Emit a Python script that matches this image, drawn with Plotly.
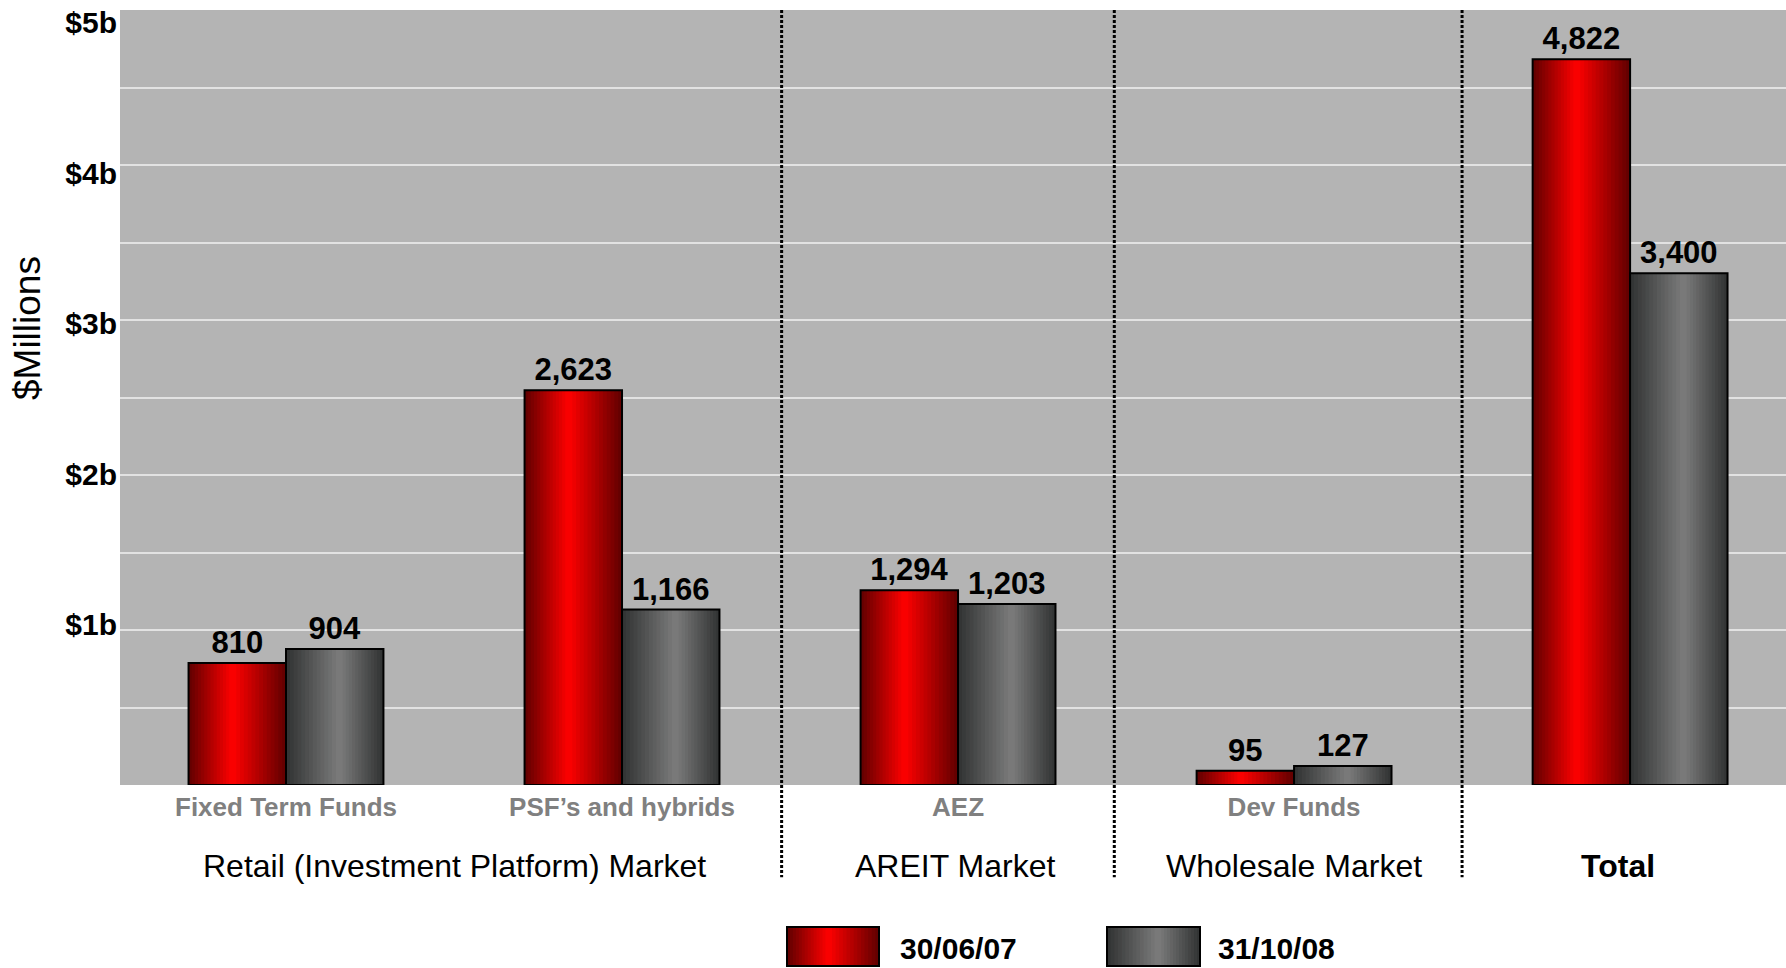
import plotly.graph_objects as go

# ---------------- data ----------------
categories = ["Fixed Term Funds", "PSF’s and hybrids", "AEZ", "Dev Funds", "Total"]
sub_labels = ["Fixed Term Funds", "PSF’s and hybrids", "AEZ", "Dev Funds", ""]
values_2007 = [810, 2623, 1294, 95, 4822]
values_2008 = [904, 1166, 1203, 127, 3400]
series_names = ["30/06/07", "31/10/08"]
markets = ["Retail (Investment Platform) Market", "AREIT Market", "Wholesale Market", "Total"]
market_centers = [0.5, 1.99, 3.0, 3.965]   # category position of each market label
separators = [1.475, 2.465, 3.5]           # between market groups
y_tick_vals = [1000, 2000, 3000, 4000, 5000]
y_tick_text = ["$1b", "$2b", "$3b", "$4b", "$5b"]
y_max = 5150

FONT = "Liberation Sans, Arial, sans-serif"
x_idx = list(range(len(categories)))
BAR_W = 0.29
N_LAYERS = 14

# gradient specs: (dark rgb, peak rgb, peak position)
GRAD = {
    0: ((95, 0, 0), (255, 0, 0), 0.45),
    1: ((48, 50, 50), (124, 124, 124), 0.55),
}


def grad_layers(spec, n=N_LAYERS):
    dark, peak, pos = spec
    out = []
    for j in range(n):
        t = j / n
        left = pos * t
        right = 1 - (1 - pos) * t
        s = (j + 0.5) / n
        c = tuple(int(round(d + s * (p - d))) for d, p in zip(dark, peak))
        out.append((left, right, "rgb(%d,%d,%d)" % c))
    return out


fig = go.Figure()

for si, vals in enumerate([values_2007, values_2008]):
    base_off = -BAR_W if si == 0 else 0.0
    for left, right, col in grad_layers(GRAD[si]):
        fig.add_trace(go.Bar(
            x=x_idx, y=vals,
            width=[BAR_W * (right - left)] * len(vals),
            offset=base_off + BAR_W * left,
            marker=dict(color=col, line=dict(width=0)),
            showlegend=False, hoverinfo="skip",
        ))
    fig.add_trace(go.Bar(
        x=x_idx, y=vals, name=series_names[si],
        width=[BAR_W] * len(vals), offset=base_off,
        marker=dict(color="rgba(0,0,0,0)", line=dict(color="black", width=2)),
        text=[f"{v:,}" for v in vals], textposition="outside",
        textfont=dict(family=FONT, size=31, color="black", weight="bold"),
        constraintext="none", cliponaxis=False, showlegend=False,
    ))

# separators
shapes = []
for sx in separators:
    shapes.append(dict(type="line", xref="x", yref="paper", x0=sx, x1=sx, y0=1, y1=-0.119,
                       line=dict(color="black", width=3, dash="3px,2px")))

# custom legend (gradient boxes)
PL, PW, PB, PH = 120, 1666, 785, 775


def px_x(p):
    return (p - PL) / PW


def px_y(p):
    return (PB - p) / PH


legend_boxes = [(787, 879), (1107, 1200)]
legend_text_x = [898, 1216]
for si in range(2):
    x0p, x1p = legend_boxes[si]
    for left, right, col in grad_layers(GRAD[si]):
        shapes.append(dict(type="rect", xref="paper", yref="paper",
                           x0=px_x(x0p + (x1p - x0p) * left), x1=px_x(x0p + (x1p - x0p) * right),
                           y0=px_y(966), y1=px_y(927), line=dict(width=0), fillcolor=col, layer="above"))
    shapes.append(dict(type="rect", xref="paper", yref="paper",
                       x0=px_x(x0p), x1=px_x(x1p), y0=px_y(966), y1=px_y(927),
                       line=dict(color="black", width=2), fillcolor="rgba(0,0,0,0)", layer="above"))

annotations = []
for si in range(2):
    annotations.append(dict(text=series_names[si], xref="paper", yref="paper",
                            x=px_x(legend_text_x[si]), y=px_y(967), xanchor="left", yanchor="bottom",
                            showarrow=False, font=dict(family=FONT, size=30, color="black", weight="bold")))

for name, cx in zip(markets, market_centers):
    annotations.append(dict(text=name, xref="x", yref="paper", x=cx, y=px_y(866),
                            xanchor="center", yanchor="middle", showarrow=False,
                            font=dict(family=FONT, size=32, color="black",
                                      weight="bold" if name == "Total" else "normal")))

annotations.append(dict(text="$Millions", xref="paper", yref="paper", x=px_x(28), y=px_y(328),
                        xanchor="center", yanchor="middle", textangle=-90, showarrow=False,
                        font=dict(family=FONT, size=37, color="black")))

fig.update_layout(
    width=1786, height=968,
    margin=dict(l=PL, r=0, t=10, b=183),
    paper_bgcolor="white", plot_bgcolor="#b4b4b4",
    barmode="overlay",
    showlegend=False,
    shapes=shapes, annotations=annotations,
    xaxis=dict(range=[-0.494, 4.464], tickmode="array", tickvals=x_idx, ticktext=sub_labels,
               showgrid=False, zeroline=False, showline=False, ticks="",
               ticklabelstandoff=4,
               tickfont=dict(family=FONT, size=26, color="#808080", weight="bold")),
    yaxis=dict(range=[0, y_max], tickmode="array", tickvals=y_tick_vals, ticktext=y_tick_text,
               showgrid=False, zeroline=False, showline=False, ticks="",
               ticklabelshift=-10, ticklabelstandoff=2,
               tickfont=dict(family=FONT, size=30, color="black", weight="bold"),
               minor=dict(tickmode="linear", tick0=0, dtick=y_max / 10, showgrid=True,
                          gridcolor="#e2e2e2", gridwidth=2, ticks="")),
)

fig.write_html("out.html")
